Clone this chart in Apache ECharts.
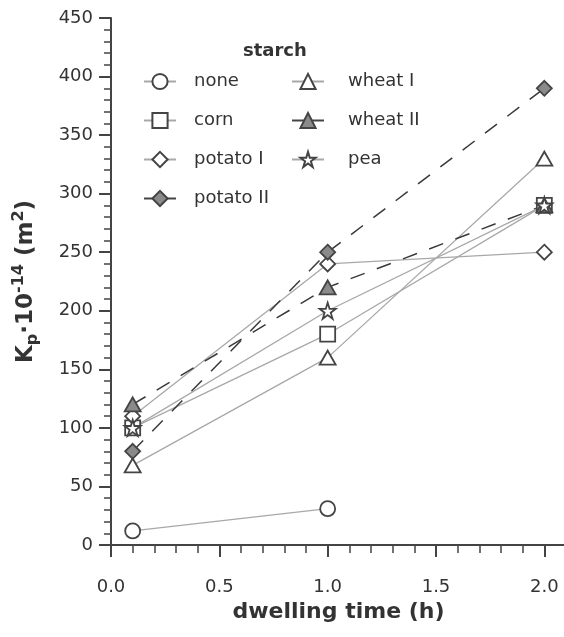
<!DOCTYPE html>
<html>
<head>
<meta charset="utf-8">
<script src="https://cdn.jsdelivr.net/npm/echarts@6/dist/echarts.min.js"></script>
<style>
html,body{margin:0;padding:0;background:#fff;}
#chart{width:564px;height:637px;}
</style>
</head>
<body>
<div id="chart"></div>
<script>
// ---- data ----
const xValues = [0.1, 1.0, 2.0];
const seriesNames = ['none', 'corn', 'potato I', 'potato II', 'wheat I', 'wheat II', 'pea'];
const noneVals = [12, 31];
const cornVals = [100, 180, 290];
const potatoIVals = [110, 240, 250];
const potatoIIVals = [80, 250, 390];
const wheatIVals = [68, 160, 330];
const wheatIIVals = [120, 220, 290];
const peaVals = [100, 200, 290];
const yTicks = [0, 50, 100, 150, 200, 250, 300, 350, 400, 450];
const xTicks = [0.0, 0.5, 1.0, 1.5, 2.0];

const FONT = 'DejaVu Sans';
const STAR = 'path://M50,2 L61.2,36.3 L97.6,36.3 L68.2,57.7 L79.4,92 L50,70.8 L20.6,92 L31.8,57.7 L2.4,36.3 L38.8,36.3 Z';

function pairs(vals) { return vals.map((v, i) => [xValues[i], v]); }

const solidLine = { color: '#a8a8a8', width: 1.3 };
const dashLine = { color: '#3a3a3a', width: 1.5, type: [15, 13] };
const border = '#444';

function mk(name, vals, symbol, size, fill, dashed) {
  return {
    name: name, type: 'line', data: pairs(vals), xAxisIndex: 0, yAxisIndex: 0,
    symbol: symbol, symbolSize: size, showAllSymbol: true,
    lineStyle: dashed ? dashLine : solidLine,
    itemStyle: { color: fill, borderColor: border, borderWidth: 1.8 },
    emphasis: { disabled: true }, animation: false, z: 3
  };
}

const series = [
  mk('none', noneVals, 'circle', 15, '#fff', false),
  mk('corn', cornVals, 'rect', 15, '#fff', false),
  mk('potato I', potatoIVals, 'diamond', 15, '#fff', false),
  mk('potato II', potatoIIVals, 'diamond', 15, '#8a8a8a', true),
  mk('wheat I', wheatIVals, 'triangle', [16, 14], '#fff', false),
  mk('wheat II', wheatIIVals, 'triangle', [16, 14], '#8a8a8a', true),
  mk('pea', peaVals, STAR, 16, '#fff', false)
];

const legendBase = {
  orient: 'vertical', itemWidth: 32, itemHeight: 19, itemGap: 20,
  selectedMode: false,
  textStyle: { fontFamily: FONT, fontSize: 18, color: '#333', lineHeight: 19 }
};

const chart = echarts.init(document.getElementById('chart'), null, { renderer: 'canvas' });
chart.setOption({
  backgroundColor: '#fff',
  animation: false,
  title: {
    text: 'starch', left: 238, top: 37,
    textStyle: { fontFamily: FONT, fontSize: 18, fontWeight: 'bold', color: '#333' }
  },
  legend: [
    Object.assign({}, legendBase, {
      left: 138, top: 67,
      data: ['none', 'corn', 'potato I', { name: 'potato II', lineStyle: { type: 'solid', color: '#444' } }],
      textStyle: Object.assign({}, legendBase.textStyle, { padding: [0, 0, 0, 13] })
    }),
    Object.assign({}, legendBase, {
      left: 286, top: 67,
      data: ['wheat I', { name: 'wheat II', lineStyle: { type: 'solid', color: '#444' } }, 'pea'],
      textStyle: Object.assign({}, legendBase.textStyle, { padding: [0, 0, 0, 19] })
    })
  ],
  grid: { left: 111, top: 18, right: -2, bottom: 92, containLabel: false, outerBoundsMode: 'none' },
  xAxis: [{
    type: 'value', min: 0, max: 2.1, interval: 0.5, position: 'bottom',
    name: 'dwelling time (h)', nameLocation: 'middle', nameGap: 56,
    nameTextStyle: { fontFamily: FONT, fontSize: 22, fontWeight: 'bold', color: '#333' },
    axisLine: { show: true, onZero: false, lineStyle: { color: '#444', width: 2 } },
    axisTick: { show: true, inside: false, length: 12, lineStyle: { color: '#444', width: 2 } },
    minorTick: { show: false },
    splitLine: { show: false },
    axisLabel: {
      fontFamily: FONT, fontSize: 18, color: '#333', margin: 33,
      formatter: function (v) {
        for (const t of xTicks) if (Math.abs(t - v) < 1e-9) return t.toFixed(1);
        return '';
      }
    },
    z: 5
  }, {
    type: 'value', min: 0, max: 2.1, interval: 0.1, position: 'bottom', offset: 0,
    axisLine: { show: false, onZero: false },
    axisTick: { show: true, inside: false, length: 8, lineStyle: { color: '#444', width: 1.5 } },
    axisLabel: { show: false },
    splitLine: { show: false },
    z: 4
  }],
  yAxis: {
    type: 'value', min: yTicks[0], max: yTicks[yTicks.length - 1], interval: 50,
    name: '{b|K}{sub|p}{b|·10}{sup|-14}{b| (m}{sup|2}{b|)}',
    nameLocation: 'middle', nameGap: 70, nameRotate: 90,
    nameTextStyle: {
      fontFamily: FONT, color: '#333',
      rich: {
        b: { fontFamily: FONT, fontSize: 23, fontWeight: 'bold', color: '#333', lineHeight: 30 },
        sub: { fontFamily: FONT, fontSize: 16, fontWeight: 'bold', color: '#333', lineHeight: 15, verticalAlign: 'bottom' },
        sup: { fontFamily: FONT, fontSize: 16, fontWeight: 'bold', color: '#333', lineHeight: 15, verticalAlign: 'top' }
      }
    },
    axisLine: { show: true, lineStyle: { color: '#444', width: 2 } },
    axisTick: { show: true, inside: false, length: 12, lineStyle: { color: '#444', width: 2 } },
    minorTick: { show: true, splitNumber: 5, length: 7, lineStyle: { color: '#444', width: 1.5 } },
    splitLine: { show: false },
    axisLabel: { fontFamily: FONT, fontSize: 18, color: '#333', margin: 18 }
  },
  series: series
});
</script>
</body>
</html>
